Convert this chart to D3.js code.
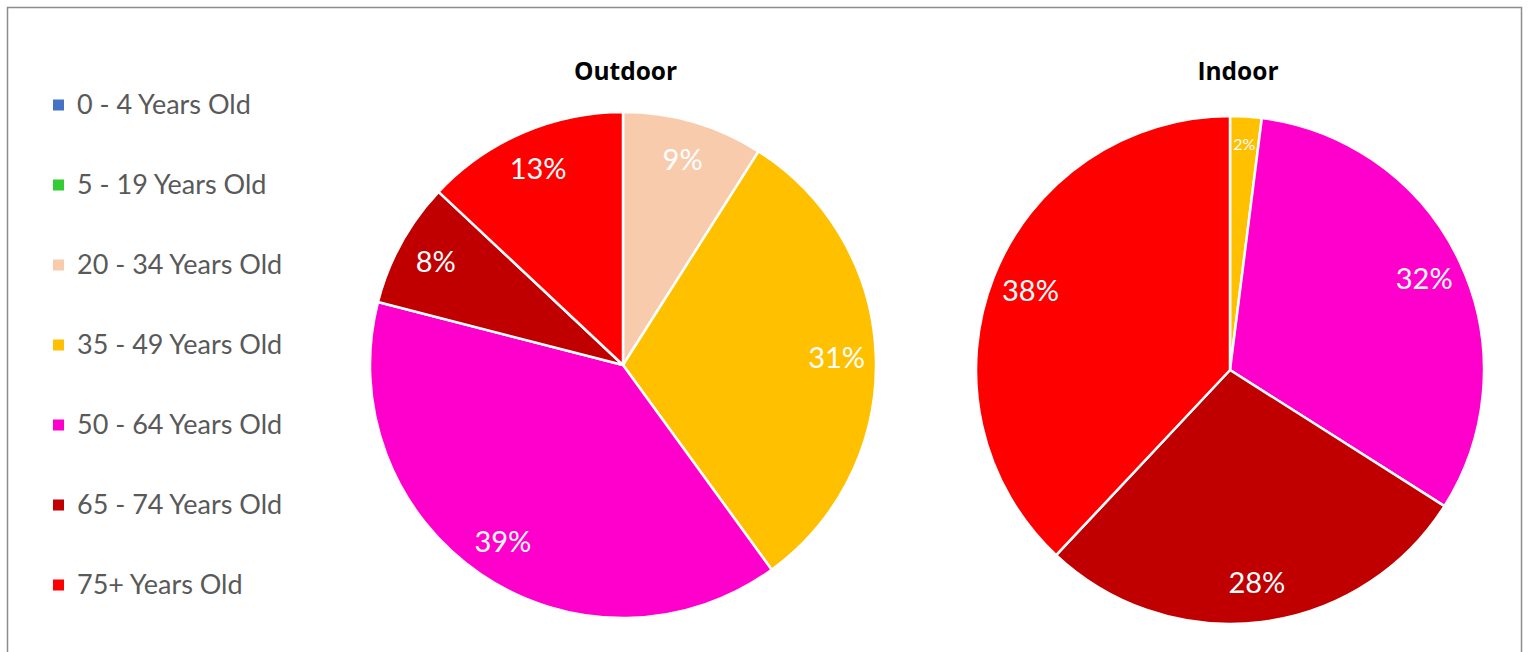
<!DOCTYPE html>
<html>
<head>
<meta charset="utf-8">
<script src="https://cdn.jsdelivr.net/npm/d3@7"></script>
<style>
  html, body { margin: 0; padding: 0; background: #fff; }
  svg { display: block; }
</style>
</head>
<body>
<svg id="chart" width="1528" height="652"></svg>
<script>
// Age groups and their colours
const ageGroups = ["0 - 4 Years Old", "5 - 19 Years Old", "20 - 34 Years Old", "35 - 49 Years Old",
                   "50 - 64 Years Old", "65 - 74 Years Old", "75+ Years Old"];
const groupColors = ["#4472C4", "#33CC33", "#F8CBAD", "#FFC000", "#FF00CC", "#C00000", "#FF0000"];

// Share of each age group (percent)
const outdoorValues = [0, 0, 9, 31, 39, 8, 13];
const indoorValues  = [0, 0, 0, 2, 32, 28, 38];

const chartTitles = ["Outdoor", "Indoor"];

const svg = d3.select("#chart");

// frame
svg.append("rect")
  .attr("x", 7.5).attr("y", 7.5)
  .attr("width", 1514).attr("height", 660)
  .attr("fill", "#fff").attr("stroke", "#8c8c8c").attr("stroke-width", 1.5);

const color = d3.scaleOrdinal().domain(ageGroups).range(groupColors);

// legend
const legendY = d3.scalePoint().domain(ageGroups).range([105, 585]);
const legend = svg.append("g").attr("class", "legend");
const items = legend.selectAll("g").data(ageGroups).join("g")
  .attr("transform", d => `translate(0,${legendY(d)})`);
items.append("rect")
  .attr("x", 53).attr("y", -5.5).attr("width", 11).attr("height", 11)
  .attr("fill", d => color(d));
items.append("text")
  .attr("x", 77).attr("y", 0).attr("dy", "0.35em")
  .attr("font-family", "Lato, 'Open Sans', sans-serif")
  .attr("font-size", 27)
  .attr("fill", "#595959")
  .text(d => d);

const pie = d3.pie().sort(null).value(d => d.value);

function drawPie(values, title, cx, cy, r, titleX) {
  const data = ageGroups.map((g, i) => ({ group: g, value: values[i] }));
  const arcs = pie(data).filter(a => a.data.value > 0);
  const arc = d3.arc().innerRadius(0).outerRadius(r);
  const g = svg.append("g").attr("transform", `translate(${cx},${cy})`);

  g.selectAll("path").data(arcs).join("path")
    .attr("d", arc)
    .attr("fill", d => color(d.data.group))
    .attr("stroke", "#fff")
    .attr("stroke-width", 2.5)
    .attr("stroke-linejoin", "round");

  g.selectAll("text.val").data(arcs).join("text")
    .attr("class", "val")
    .each(function(d) {
      const small = d.data.value < 5;
      const lr = small ? r * 0.89 : r * 0.845;
      const a = (d.startAngle + d.endAngle) / 2;
      d3.select(this)
        .attr("x", Math.sin(a) * lr)
        .attr("y", -Math.cos(a) * lr)
        .attr("font-size", small ? 16 : 29);
    })
    .attr("text-anchor", "middle")
    .attr("dy", "0.35em")
    .attr("font-family", "Lato, 'Open Sans', sans-serif")
    .attr("fill", "#fff")
    .text(d => d.data.value + "%");

  svg.append("text")
    .attr("x", titleX).attr("y", 71)
    .attr("dy", "0.35em")
    .attr("text-anchor", "middle")
    .attr("font-family", "'Open Sans', Lato, sans-serif")
    .attr("font-weight", "bold")
    .attr("font-size", 24.5)
    .attr("fill", "#000")
    .text(title);
}

drawPie(outdoorValues, chartTitles[0], 623, 365, 253, 625.5);
drawPie(indoorValues, chartTitles[1], 1230, 370, 254, 1238);
</script>
</body>
</html>
